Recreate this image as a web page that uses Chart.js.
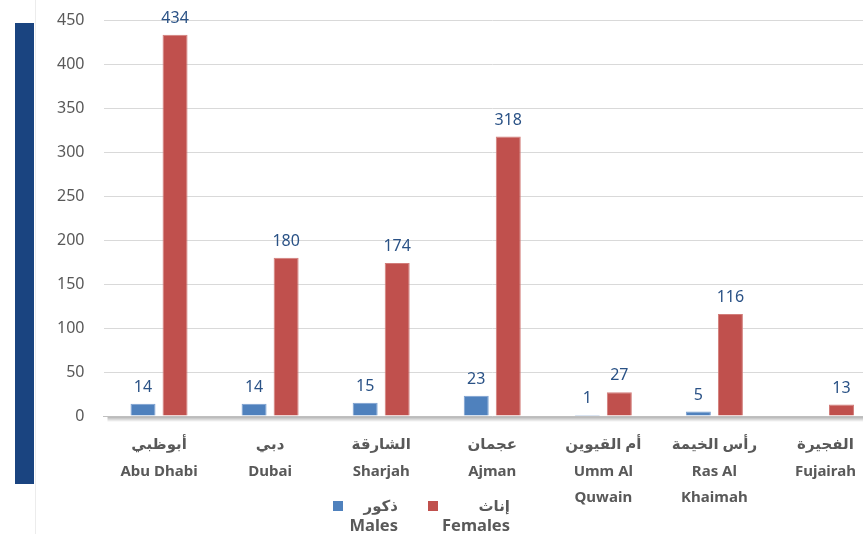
<!DOCTYPE html>
<html>
<head>
  <title>Emirates Males / Females</title>
  <script src="https://cdn.jsdelivr.net/npm/chart.js@4.4.1/dist/chart.umd.min.js"></script>
  <style>
    body { margin: 0; overflow: hidden; background: #fff; width: 863px; height: 534px; position: relative; font-family: "Noto Sans", "DejaVu Sans", sans-serif; }
    #sideBar { position: absolute; left: 15px; top: 23px; width: 19px; height: 461px; background: #1a4480; }
    #sideLine { position: absolute; left: 35px; top: 0; width: 1px; height: 534px; background: #ececec; }
    #myChart { position: absolute; left: 0; top: -8px; }
    .sw { position: absolute; width: 10px; height: 10px; }
    .lg { position: absolute; text-align: right; font-weight: bold; color: #595959; width: 100px; line-height: 22px; }
    .ar { font-size: 15px; }
    .en { font-size: 16.5px; }
  </style>
</head>
<body>
<div id="sideLine"></div>
<div id="sideBar"></div>
<canvas id="myChart" width="881" height="542"></canvas>

<div class="sw" style="left:333px;top:501px;background:#4f81bd"></div>
<div class="lg ar" style="left:298px;top:494px">ذكور</div>
<div class="lg en" style="left:298px;top:514px">Males</div>
<div class="sw" style="left:428px;top:501px;background:#c0504d"></div>
<div class="lg ar" style="left:410px;top:494px">إناث</div>
<div class="lg en" style="left:410px;top:514px">Females</div>

<script>
const categories = [
  ['أبوظبي', 'Abu Dhabi'],
  ['دبي', 'Dubai'],
  ['الشارقة', 'Sharjah'],
  ['عجمان', 'Ajman'],
  ['أم القيوين', 'Umm Al', 'Quwain'],
  ['رأس الخيمة', 'Ras Al', 'Khaimah'],
  ['الفجيرة', 'Fujairah']
];
const males = [14, 14, 15, 23, 1, 5, null];
const females = [434, 180, 174, 318, 27, 116, 13];

// value labels above the bars
const valueLabels = {
  id: 'valueLabels',
  afterDatasetsDraw(chart) {
    const ctx = chart.ctx;
    ctx.save();
    ctx.font = '16px "Noto Sans", sans-serif';
    ctx.fillStyle = '#2a5286';
    ctx.textAlign = 'center';
    ctx.textBaseline = 'alphabetic';
    chart.data.datasets.forEach((ds, i) => {
      chart.getDatasetMeta(i).data.forEach((bar, j) => {
        if (ds.data[j] == null) return;
        ctx.fillText(ds.data[j], bar.x, bar.y - 12);
      });
    });
    ctx.restore();
  }
};

// soft shadow under the x axis
const axisShadow = {
  id: 'axisShadow',
  afterDraw(chart) {
    const ctx = chart.ctx;
    const a = chart.chartArea;
    const g = ctx.createLinearGradient(0, a.bottom, 0, a.bottom + 6);
    g.addColorStop(0, 'rgba(0,0,0,0.35)');
    g.addColorStop(1, 'rgba(0,0,0,0)');
    ctx.save();
    ctx.fillStyle = g;
    ctx.fillRect(a.left + 4, a.bottom + 1, a.right - a.left, 6);
    ctx.restore();
  }
};

new Chart('myChart', {
  type: 'bar',
  data: {
    labels: categories,
    datasets: [
      { label: 'Males', data: males, backgroundColor: '#4f81bd', borderColor: '#7a9fd0', borderWidth: 1 },
      { label: 'Females', data: females, backgroundColor: '#c0504d', borderColor: '#d27d7a', borderWidth: 1 }
    ]
  },
  options: {
    responsive: false,
    animation: false,
    layout: { padding: { top: 12, right: 0, left: 0, bottom: 0 } },
    datasets: { bar: { categoryPercentage: 0.577, barPercentage: 0.78 } },
    plugins: { legend: { display: false }, tooltip: { enabled: false } },
    scales: {
      x: {
        grid: { display: false },
        border: { color: '#bfbfbf', width: 1 },
        ticks: {
          color: '#595959',
          padding: 8,
          maxRotation: 0,
          autoSkip: false,
          font: { family: '"Noto Sans", "DejaVu Sans", sans-serif', size: 15, weight: 'bold', lineHeight: 1.75 }
        },
        afterFit(scale) { scale.height = 118; }
      },
      y: {
        min: 0,
        max: 450,
        ticks: {
          stepSize: 50,
          color: '#595959',
          padding: 19,
          font: { family: '"Noto Sans", sans-serif', size: 16 }
        },
        grid: { color: '#d9d9d9', drawTicks: false },
        border: { display: false },
        afterFit(scale) { scale.width = 103.5; }
      }
    }
  },
  plugins: [valueLabels, axisShadow]
});
</script>
</body>
</html>
